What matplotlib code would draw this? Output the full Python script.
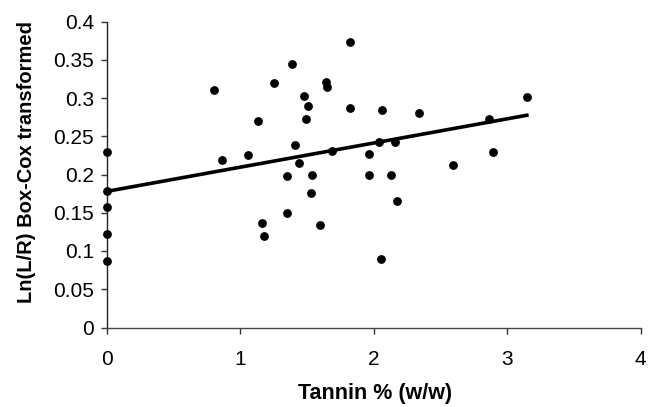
import matplotlib
matplotlib.use("Agg")
import matplotlib.pyplot as plt
import numpy as np

plt.rcParams['font.family'] = ['Liberation Sans', 'DejaVu Sans']

# Data
tannin = [0, 0, 0, 0, 0, 0.80, 0.86, 1.06, 1.13, 1.16, 1.18, 1.25, 1.35, 1.35,
          1.39, 1.41, 1.44, 1.48, 1.49, 1.51, 1.53, 1.54, 1.60, 1.64, 1.65, 1.69,
          1.82, 1.82, 1.96, 1.96, 2.04, 2.05, 2.06, 2.13, 2.16, 2.17, 2.34, 2.59,
          2.86, 2.89, 3.15]
boxcox = [0.229, 0.179, 0.157, 0.122, 0.087, 0.310, 0.219, 0.226, 0.270, 0.136,
          0.120, 0.319, 0.198, 0.150, 0.345, 0.238, 0.215, 0.303, 0.273, 0.290,
          0.176, 0.199, 0.134, 0.321, 0.314, 0.231, 0.373, 0.287, 0.227, 0.199,
          0.243, 0.089, 0.284, 0.199, 0.242, 0.165, 0.280, 0.212, 0.273, 0.229,
          0.301]
trend_intercept = 0.178
trend_slope = 0.0316
trend_range = [0.0, 3.16]

xticks = [0, 1, 2, 3, 4]
yticks = [0, 0.05, 0.1, 0.15, 0.2, 0.25, 0.3, 0.35, 0.4]
ytick_labels = ['0', '0.05', '0.1', '0.15', '0.2', '0.25', '0.3', '0.35', '0.4']

fig = plt.figure(figsize=(6.57, 4.07), dpi=100)
ax = fig.add_axes([107 / 657, 1 - 327.5 / 407, 533.7 / 657, 306 / 407])

tx = np.array(trend_range)
ax.plot(tx, trend_intercept + trend_slope * tx, color='black', lw=2.6,
        solid_capstyle='butt', zorder=2, clip_on=False)
ax.scatter(tannin, boxcox, s=40, color='black', zorder=3, clip_on=False,
           linewidths=0)

ax.set_xlim(0, 4)
ax.set_ylim(0, 0.4)
ax.set_xticks(xticks)
ax.set_xticklabels([str(t) for t in xticks])
ax.set_yticks(yticks)
ax.set_yticklabels(ytick_labels)

for s in ['top', 'right']:
    ax.spines[s].set_visible(False)
ax.spines['left'].set_color('#222222')
ax.spines['bottom'].set_color('#444444')
ax.spines['left'].set_linewidth(1.0)
ax.spines['bottom'].set_linewidth(1.0)

ax.tick_params(axis='both', direction='out', length=4.5, width=1.0,
               colors='#333333', labelcolor='black', labelsize=15)
ax.tick_params(axis='x', pad=11.5)
ax.tick_params(axis='y', pad=5)

ax.set_xlabel('Tannin % (w/w)', fontsize=15.5, fontweight='bold')
ax.set_ylabel('Ln(L/R) Box-Cox transformed', fontsize=14.5, fontweight='bold')
ax.xaxis.set_label_coords(0.502, -0.180)
ax.yaxis.set_label_coords(-0.1336, 0.541)

fig.savefig('out.png', dpi=100)
